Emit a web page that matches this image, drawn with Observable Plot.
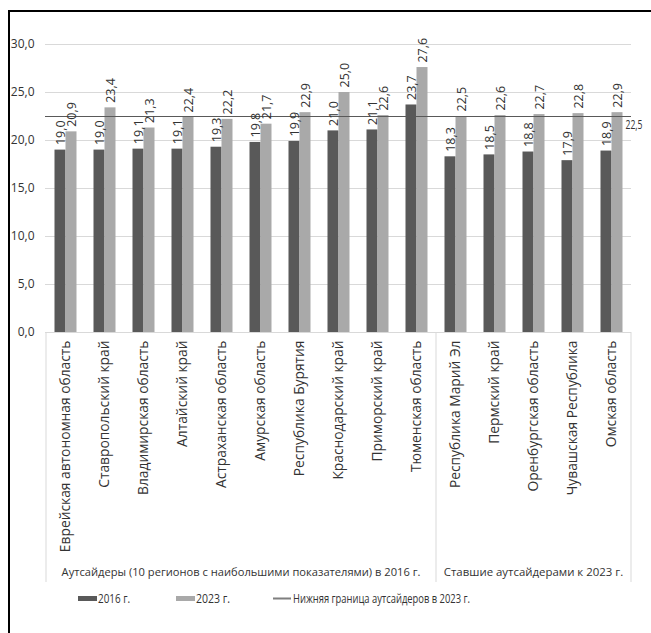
<!DOCTYPE html>
<html>
<head>
<meta charset="utf-8">
<script src="https://cdn.jsdelivr.net/npm/d3@7"></script>
<script src="https://cdn.jsdelivr.net/npm/@observablehq/plot@0.6"></script>
<style>
  body { margin: 0; background: #fff; }
  #wrap { position: relative; width: 651px; height: 633px; overflow: hidden; background: #fff; }
  #frame { position: absolute; left: 8px; top: 10px; width: 700px; height: 700px;
           border-left: 2px solid #000; border-top: 2px solid #000; pointer-events: none; }
  #chart { position: absolute; left: 0; top: 0; }
  #legend { position: absolute; left: 0; top: 588px; }
</style>
</head>
<body>
<div id="wrap">
  <div id="chart"></div>
  <div id="legend"></div>
  <div id="frame"></div>
</div>
<script>
// ---- data ----
const regions = [
  "Еврейская автономная область",
  "Ставропольский край",
  "Владимирская область",
  "Алтайский край",
  "Астраханская область",
  "Амурская область",
  "Республика Бурятия",
  "Краснодарский край",
  "Приморский край",
  "Тюменская область",
  "Республика Марий Эл",
  "Пермский край",
  "Оренбургская область",
  "Чувашская Республика",
  "Омская область"
];
const values2016 = [19.0, 19.0, 19.1, 19.1, 19.3, 19.8, 19.9, 21.0, 21.1, 23.7, 18.3, 18.5, 18.8, 17.9, 18.9];
const values2023 = [20.9, 23.4, 21.3, 22.4, 22.2, 21.7, 22.9, 25.0, 22.6, 27.6, 22.5, 22.6, 22.7, 22.8, 22.9];
const threshold = 22.5;
const groupNames = ["Аутсайдеры (10 регионов с наибольшими показателями) в 2016 г.", "Ставшие аутсайдерами к 2023 г."];
const groupSizes = [10, 5];
const yTicks = [0, 5, 10, 15, 20, 25, 30];
const seriesNames = ["2016 г.", "2023 г."];
const lineName = "Нижняя граница аутсайдеров в 2023 г.";

// ---- styles ----
const c2016 = "#595959", c2023 = "#a9a9a9", cLine = "#595959", cGrid = "#d9d9d9", cText = "#333";
const fontMain = "'Open Sans', sans-serif";
const fmt = d => d.toFixed(1).replace(".", ",");

const rows2016 = regions.map((r, i) => ({region: r, value: values2016[i]}));
const rows2023 = regions.map((r, i) => ({region: r, value: values2023[i]}));

const chart = Plot.plot({
  width: 651, height: 590,
  marginTop: 44, marginBottom: 258, marginLeft: 45, marginRight: 20,
  style: {fontFamily: fontMain, fontSize: "12px", color: cText, background: "transparent"},
  x: {domain: regions, padding: 0, label: null},
  y: {domain: [0, 30], label: null},
  marks: [
    Plot.ruleY(yTicks, {stroke: cGrid, strokeWidth: 1}),
    Plot.axisY({ticks: yTicks, tickFormat: fmt, tickSize: 0, tickPadding: 11, fontSize: 12, label: null}),
    Plot.axisX({tickRotate: -90, tickSize: 0, tickPadding: 8, fontSize: 13.8, label: null}),
    Plot.barY(rows2016, {x: "region", y: "value", fill: c2016, insetLeft: 8.5, insetRight: 19.5}),
    Plot.barY(rows2023, {x: "region", y: "value", fill: c2023, insetLeft: 19.5, insetRight: 8.5}),
    Plot.ruleY([threshold], {stroke: cLine, strokeWidth: 1}),
    Plot.text(rows2016, {x: "region", y: "value", text: d => fmt(d.value), rotate: -90, textAnchor: "start",
      dx: -5.5, dy: -5, fontSize: 12.5, fill: cText}),
    Plot.text(rows2023, {x: "region", y: "value", text: d => fmt(d.value), rotate: -90, textAnchor: "start",
      dx: 5.5, dy: -5, fontSize: 12.5, fill: cText})
  ]
});

// ---- multi-level category box, group labels and threshold label, placed from the scales ----
const xs = chart.scale("x"), ys = chart.scale("y");
const bw = xs.bandwidth;
const svg = d3.select(chart);
const y0 = ys.apply(0), yBottom = 582;
let start = 0;
const bounds = [xs.apply(regions[0])];
const spans = [];
groupSizes.forEach(n => {
  const a = xs.apply(regions[start]);
  const b = xs.apply(regions[start + n - 1]) + bw;
  bounds.push(b);
  spans.push([a, b]);
  start += n;
});
const g = svg.append("g");
bounds.forEach(bx => {
  g.append("line").attr("x1", bx).attr("x2", bx).attr("y1", y0).attr("y2", yBottom)
   .attr("stroke", cGrid).attr("stroke-width", 1);
});
groupNames.forEach((name, i) => {
  const [a, b] = spans[i];
  g.append("text").attr("x", (a + b) / 2).attr("y", 576).attr("text-anchor", "middle")
   .attr("fill", cText)
   .attr("textLength", (b - a) * 0.92).attr("lengthAdjust", "spacingAndGlyphs")
   .style("font-family", fontMain).style("font-size", "11.6px").text(name);
});
const xRight = xs.apply(regions[regions.length - 1]) + bw;
g.append("text").attr("x", xRight + 3).attr("y", ys.apply(threshold) + 13)
 .attr("fill", cText).attr("textLength", 17).attr("lengthAdjust", "spacingAndGlyphs")
 .style("font-family", fontMain).style("font-size", "12px").text(fmt(threshold));

document.getElementById("chart").appendChild(chart);

// ---- legend ----
const items = [
  {label: seriesNames[0], color: c2016, kind: "sw", left: 78, tl: 32},
  {label: seriesNames[1], color: c2023, kind: "sw", left: 176, tl: 34},
  {label: lineName, color: "#7f7f7f", kind: "ln", left: 273, tl: 177}
];
const lsvg = d3.select("#legend").append("svg").attr("width", 651).attr("height", 22);
items.forEach(it => {
  if (it.kind === "sw") {
    lsvg.append("rect").attr("x", it.left).attr("y", 8).attr("width", 19).attr("height", 5).attr("fill", it.color);
  } else {
    lsvg.append("rect").attr("x", it.left).attr("y", 9.5).attr("width", 18).attr("height", 2).attr("fill", it.color);
  }
  lsvg.append("text").attr("x", it.left + 20).attr("y", 14.5).attr("fill", cText)
   .attr("textLength", it.tl).attr("lengthAdjust", "spacingAndGlyphs")
   .style("font-family", fontMain).style("font-size", "12.5px").text(it.label);
});
</script>
</body>
</html>
